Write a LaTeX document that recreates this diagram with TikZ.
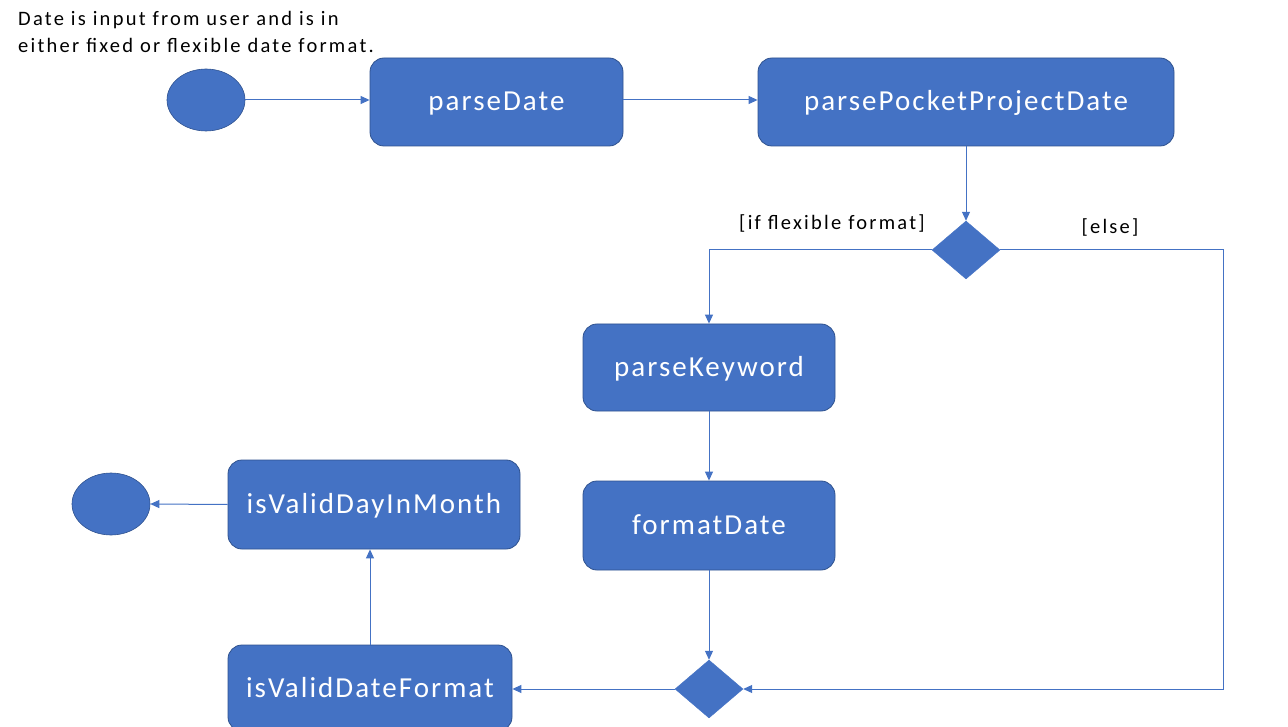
\documentclass[tikz,border=0pt]{standalone}
\usepackage{fontspec}
\setmainfont{Carlito}
\newfontfamily\boxfont[LetterSpace=7]{Carlito}
\newfontfamily\lblfont[LetterSpace=11]{Carlito}
\usetikzlibrary{shapes.geometric,arrows.meta}
\definecolor{blu}{HTML}{4472C4}
\definecolor{bluedge}{HTML}{2F528F}
\begin{document}
\begin{tikzpicture}[x=1pt,y=-1pt,
  act/.style={draw=bluedge,line width=0.8pt,fill=blu,rounded corners=14pt,text=white,font=\boxfont\fontsize{29}{34}\selectfont,inner sep=0pt,text height=19pt,text depth=1pt},
  startend/.style={ellipse,draw=bluedge,line width=0.6pt,fill=blu,minimum width=78pt,minimum height=62pt,inner sep=0pt},
  dec/.style={diamond,fill=blu,draw=blu,minimum width=68pt,minimum height=58pt,inner sep=0pt,aspect=1.17},
  conn/.style={draw=blu,line width=1pt,-{Triangle[length=9pt,width=8pt]}},
  lbl/.style={font=\lblfont\fontsize{20.5}{27}\selectfont,text=black}]
\useasboundingbox (0,0) rectangle (1288,727);
\fill[white] (0,0) rectangle (1288,727);
\node[lbl,anchor=base west,align=left,inner sep=0pt] (note) at (18,53) {Date is input from user and is in\\either fixed or flexible date format.};
\node[startend] (start) at (206,100) {};
\node[act,minimum width=253pt,minimum height=88pt] (pd) at (496.5,102) {parseDate};
\node[act,minimum width=416pt,minimum height=88pt] (ppd) at (966,102) {parsePocketProjectDate};
\node[dec] (d1) at (966,250) {};
\node[act,minimum width=252pt,minimum height=87pt] (pk) at (709,367.5) {parseKeyword};
\node[act,minimum width=252pt,minimum height=89pt] (fd) at (709,525.5) {formatDate};
\node[dec] (d2) at (709,689) {};
\node[act,minimum width=284pt,minimum height=86pt] (vdf) at (370,688) {isValidDateFormat};
\node[act,minimum width=292pt,minimum height=89pt] (vdm) at (374,504.5) {isValidDayInMonth};
\node[startend] (end) at (111,504) {};
\node[lbl,anchor=base] (lif) at (832,230) {[if flexible format]};
\node[lbl,anchor=base] (lelse) at (1110,234) {[else]};
\coordinate (c1) at (709,250);
\coordinate (c2) at (1223,250);
\coordinate (c3) at (1223,689);
\draw[conn] (start.east) -- (start.east -| pd.west);
\draw[conn] (pd.east |- start.east) -- (start.east -| ppd.west);
\draw[conn] (ppd.south) -- (d1.north);
\draw[conn] (d1.west) -- (c1) -- (pk.north);
\draw[conn] (d1.east) -- (c2) -- (c3) -- (d2.east);
\draw[conn] (pk.south) -- (fd.north);
\draw[conn] (fd.south) -- (d2.north);
\draw[conn] (d2.west) -- (d2.west -| vdf.east);
\draw[conn] (vdf.north) -- (vdm.south -| vdf.north);
\draw[conn] (vdm.west) -- (end.east);
\end{tikzpicture}
\end{document}
